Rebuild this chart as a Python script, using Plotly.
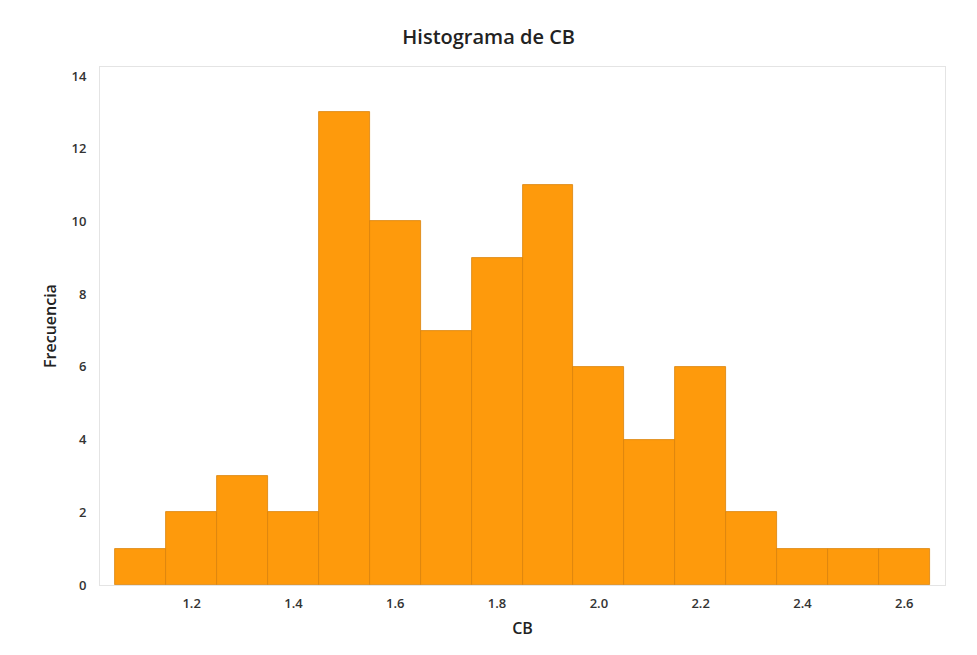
import plotly.graph_objects as go

bin_centers = [1.1, 1.2, 1.3, 1.4, 1.5, 1.6, 1.7, 1.8, 1.9, 2.0, 2.1, 2.2, 2.3, 2.4, 2.5, 2.6]
counts = [1, 2, 3, 2, 13, 10, 7, 9, 11, 6, 4, 6, 2, 1, 1, 1]
x_ticks = [1.2, 1.4, 1.6, 1.8, 2.0, 2.2, 2.4, 2.6]
y_ticks = [0, 2, 4, 6, 8, 10, 12, 14]

fig = go.Figure(go.Bar(
    x=bin_centers, y=counts, width=0.1,
    marker=dict(color="#FE9A0C", line=dict(color="#D9820A", width=0.8)),
))

font = "Open Sans, Noto Sans, sans-serif"
fig.update_layout(
    width=977, height=655,
    paper_bgcolor="white", plot_bgcolor="white",
    margin=dict(l=92, r=40, t=59, b=78),
    title=dict(text="Histograma de CB", x=0.492, xanchor="center", y=0.955, yanchor="middle",
               font=dict(family=font, size=20, color="#222", weight=600)),
    font=dict(family=font, color="#333"),
    showlegend=False, bargap=0,
)
fig.update_xaxes(range=[1.02, 2.68], tickvals=x_ticks, tickformat=".1f",
                 showgrid=False, zeroline=False, showline=True, linecolor="#e4e4e4", mirror=True,
                 ticks="", ticklabelstandoff=6, automargin=False,
                 tickfont=dict(size=13, color="#333", weight=600),
                 title=dict(text="CB", font=dict(size=16, color="#222", weight=600), standoff=12))
fig.update_yaxes(range=[0, 14.25], tickvals=y_ticks,
                 showgrid=False, zeroline=False, showline=True, linecolor="#e4e4e4", mirror=True,
                 ticks="", ticklabelstandoff=10, automargin=False,
                 tickfont=dict(size=13, color="#333", weight=600),
                 title=dict(text="Frecuencia", font=dict(size=16, color="#222", weight=600), standoff=10))
fig.write_html("out.html")
